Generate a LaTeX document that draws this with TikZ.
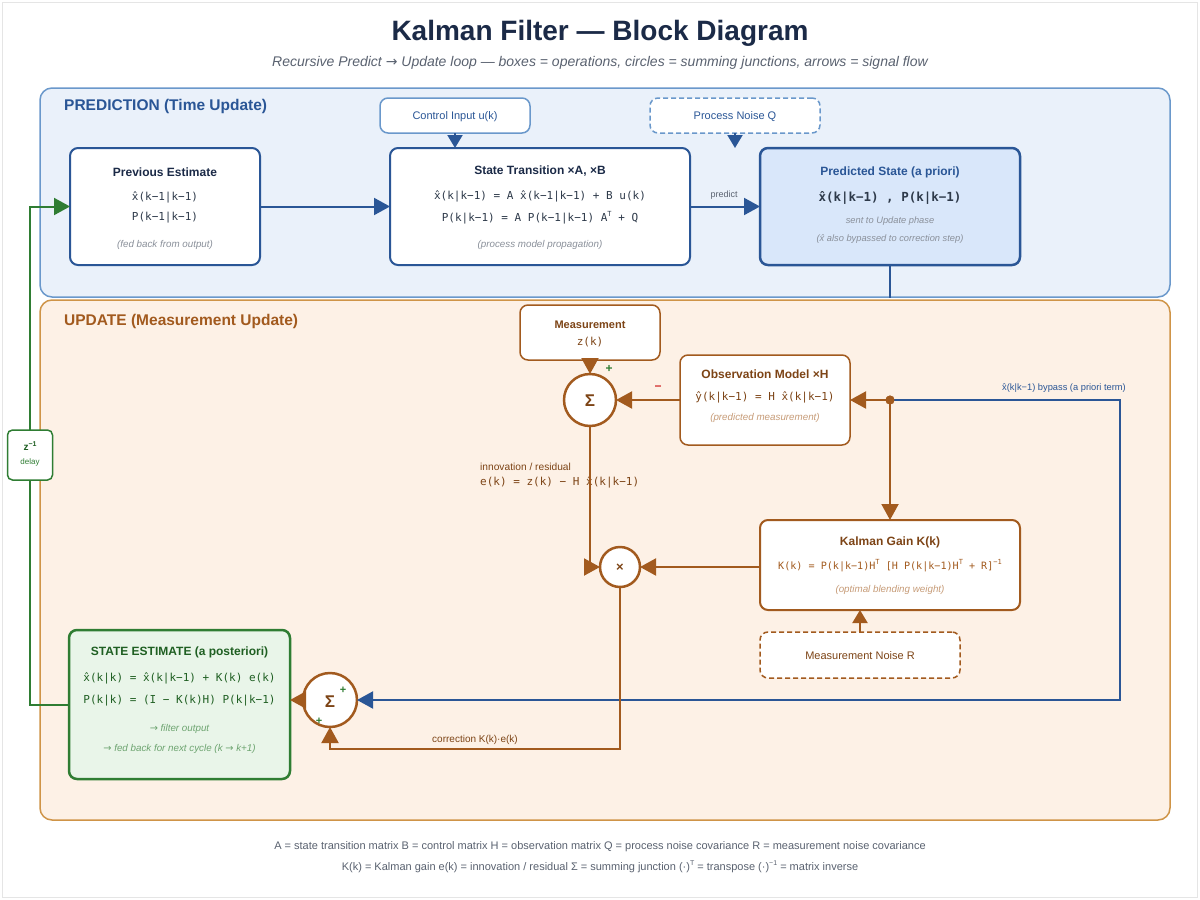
\documentclass[tikz,border=0pt]{standalone}
\usepackage{fontspec}
\setmainfont{Liberation Sans}
\newfontfamily\monof{DejaVu Sans Mono}
\newfontfamily\symf{DejaVu Sans}
\usetikzlibrary{arrows.meta}
\newcommand\fsz[1]{\fontsize{#1}{#1}\selectfont}
\newcommand\supr[1]{\raisebox{0.45em}{\fsz{7}#1}}
\newcommand\arr{{\symf\upshape →}}
\definecolor{navy}{HTML}{1B2A47}
\definecolor{bl}{HTML}{2A5696}
\definecolor{blpanel}{HTML}{6A98CB}
\definecolor{blfill}{HTML}{EAF1FA}
\definecolor{predfill}{HTML}{D9E7FA}
\definecolor{br}{HTML}{A25A1E}
\definecolor{brtext}{HTML}{7D4416}
\definecolor{brpanel}{HTML}{CF9447}
\definecolor{brfill}{HTML}{FDF1E6}
\definecolor{gr}{HTML}{2F7D33}
\definecolor{grtext}{HTML}{1F5F22}
\definecolor{grfill}{HTML}{E9F5E9}
\definecolor{gtxt}{HTML}{5A6270}
\definecolor{ltxt}{HTML}{8A909A}
\definecolor{redm}{HTML}{D32F2F}
\definecolor{monotxt}{HTML}{2E3A4A}
\begin{document}
\begin{tikzpicture}[x=1pt,y=-1pt,
  panel/.style={line width=1.5, rounded corners=12},
  box/.style={draw, fill=white, line width=2, rounded corners=8, outer sep=0, anchor=north west, inner sep=0},
  smallbox/.style={draw, fill=white, line width=1.5, rounded corners=8, outer sep=0, anchor=north west, inner sep=0},
  sumc/.style={circle, draw=br, fill=white, line width=2.5, outer sep=0, inner sep=0},
  conn/.style={line width=2},
  tipB/.style={-{Triangle[length=16pt,width=17pt]}},
  tipS/.style={-{Triangle[length=13pt,width=15pt]}},
  ttx/.style={font=\monof\fsz{11}},
  btitle/.style={font=\bfseries\fsz{12}},
  note/.style={font=\itshape\fsz{9.8}, text=ltxt},
]
\useasboundingbox (0,0) rectangle (1200,900);
\fill[white] (0,0) rectangle (1200,900);
\draw[black!10, line width=1] (2.5,2.5) rectangle (1197.5,897.5);

% title
\node[font=\bfseries\fsz{28}, text=navy] (title) at (600,33.5) {Kalman Filter — Block Diagram};
\node[font=\itshape\fsz{14}, text=gtxt] (subtitle) at (600,62.5) {Recursive Predict \arr\ Update loop — boxes = operations, circles = summing junctions, arrows = signal flow};

% panels
\draw[panel, draw=blpanel, fill=blfill] (40,88) rectangle (1170,297);
\draw[panel, draw=brpanel, fill=brfill] (40,300) rectangle (1170,820);
\node[anchor=west, inner sep=0, font=\bfseries\fsz{15.5}, text=bl] (ptitle) at (64,106) {PREDICTION (Time Update)};
\node[anchor=west, inner sep=0, font=\bfseries\fsz{15.5}, text=br] (utitle) at (64,321) {UPDATE (Measurement Update)};

% prediction boxes
\node[box, draw=bl, minimum width=190, minimum height=117] (prev) at (70,148) {};
\node[btitle, text=navy] (prevT) at (165,172.5) {Previous Estimate};
\node[ttx, text=monotxt] (prevL1) at (165,197.5) {\^x(k−1|k−1)};
\node[ttx, text=monotxt] (prevL2) at (165,217.5) {P(k−1|k−1)};
\node[note] (prevN) at (165,244.5) {(fed back from output)};

\node[box, draw=bl, minimum width=300, minimum height=117] (st) at (390,148) {};
\node[btitle, text=navy] (stT) at (540,171.5) {State Transition ×A, ×B};
\node[ttx, text=monotxt] (stL1) at (540,196.5) {\^x(k|k−1) = A \^x(k−1|k−1) + B u(k)};
\node[ttx, text=monotxt] (stL2) at (540,217.5) {P(k|k−1) = A P(k−1|k−1) A\supr{T} + Q};
\node[note] (stN) at (540,244.5) {(process model propagation)};

\node[smallbox, draw=blpanel, minimum width=150, minimum height=35] (ctrl) at (380,98) {};
\node[font=\fsz{11}, text=bl] (ctrlT) at (455,117) {Control Input u(k)};

\node[smallbox, draw=blpanel, dashed, dash pattern=on 5pt off 3pt, minimum width=170, minimum height=35] (pq) at (650,98) {};
\node[font=\fsz{11}, text=bl] (pqT) at (735,117) {Process Noise Q};
\coordinate (qend) at (735,148);

\node[box, draw=bl, fill=predfill, line width=2.5, minimum width=260, minimum height=117] (pred) at (760,148) {};
\node[btitle, text=bl] (predT) at (890,172.5) {Predicted State (a priori)};
\node[font=\monof\bfseries\fsz{12.5}, text=monotxt] (predL) at (890,197.5) {\^x(k|k−1) , P(k|k−1)};
\node[note, font=\itshape\fsz{9.3}] (predN1) at (890,221.5) {sent to Update phase};
\node[note, font=\itshape\fsz{9.3}] (predN2) at (890,239.5) {(\^x also bypassed to correction step)};
\coordinate (pdown) at (890,298);

% update boxes
\node[smallbox, draw=br, minimum width=140, minimum height=55] (meas) at (520,305) {};
\node[font=\bfseries\fsz{11}, text=brtext] (measT) at (590,324.5) {Measurement};
\node[ttx, text=brtext] (measL) at (590,342.5) {z(k)};

\node[sumc, minimum size=52] (s1) at (590,400) {};
\node[font=\bfseries\fsz{17}, text=brtext] (s1T) at (590,401) {Σ};
\node[font=\bfseries\fsz{12}, text=gr] (s1p) at (609,369) {+};
\node[font=\bfseries\fsz{12}, text=redm] (s1m) at (658,388) {−};

\node[smallbox, draw=br, minimum width=170, minimum height=90] (obs) at (680,355) {};
\node[btitle, text=brtext] (obsT) at (765,374.5) {Observation Model ×H};
\node[ttx, text=brtext] (obsL) at (765,397.5) {\^y(k|k−1) = H \^x(k|k−1)};
\node[note, text=br!60] (obsN) at (765,417.5) {(predicted measurement)};

\node[circle, fill=br, minimum size=9, inner sep=0] (dot) at (890,400) {};
\node[anchor=east, inner sep=0, font=\fsz{9.3}, text=bl] (bpT) at (1126,388.5) {\^x(k|k−1) bypass (a priori term)};

\node[anchor=west, inner sep=0, font=\fsz{10.2}, text=brtext] (innT) at (480,466.5) {innovation / residual};
\node[anchor=west, inner sep=0, ttx, text=brtext] (innL) at (480,482.5) {e(k) = z(k) − H \^x(k|k−1)};

\node[sumc, minimum size=40] (mul) at (620,567) {};
\node[font=\bfseries\fsz{13}, text=brtext] (mulT) at (620,568) {×};

\node[smallbox, draw=br, line width=2, minimum width=260, minimum height=90] (kg) at (760,520) {};
\node[btitle, text=brtext] (kgT) at (890,542.5) {Kalman Gain K(k)};
\node[font=\monof\fsz{10.1}, text=br] (kgL) at (890,565.5) {K(k) = P(k|k−1)H\supr{T} [H P(k|k−1)H\supr{T} + R]\supr{−1}};
\node[note, text=br!60] (kgN) at (890,589.5) {(optimal blending weight)};

\node[smallbox, draw=br, dashed, dash pattern=on 5pt off 3pt, minimum width=200, minimum height=46] (rn) at (760,632) {};
\node[font=\fsz{11}, text=brtext] (rnT) at (860,655.5) {Measurement Noise R};

\node[sumc, minimum size=54] (s2) at (330,700) {};
\node[font=\bfseries\fsz{17}, text=brtext] (s2T) at (330,702) {Σ};
\node[font=\bfseries\fsz{11}, text=gr] (s2p1) at (343,690) {+};
\node[font=\bfseries\fsz{11}, text=gr] (s2p2) at (319,721) {+};
\coordinate (cc) at (330,749);
\node[font=\fsz{10}, text=brtext] (corrT) at (475,739.5) {correction K(k)·e(k)};

\node[box, draw=gr, fill=grfill, line width=2.5, minimum width=221, minimum height=149] (est) at (69,630) {};
\node[btitle, text=grtext] (estT) at (179.5,652.5) {STATE ESTIMATE (a posteriori)};
\node[ttx, text=grtext] (estL1) at (179.5,678.5) {\^x(k|k) = \^x(k|k−1) + K(k) e(k)};
\node[ttx, text=grtext] (estL2) at (179.5,700.5) {P(k|k) = (I − K(k)H) P(k|k−1)};
\node[note, text=gr!70] (estN1) at (179.5,728.5) {\arr\ filter output};
\node[note, text=gr!70] (estN2) at (179.5,748.5) {\arr\ fed back for next cycle (k \arr\ k+1)};

\node[box, draw=gr, line width=1.5, rounded corners=5, minimum width=45, minimum height=50] (zd) at (7.5,430) {};
\node[font=\bfseries\fsz{10}, text=grtext] (zdT) at (30,446) {z\supr{−1}};
\node[font=\fsz{8}, text=gr] (zdN) at (30,462) {delay};

% connectors: prediction
\draw[conn, bl, tipB] (prev.east) -- (st.west);
\draw[conn, bl, tipB] (st.east) -- (pred.west);
\node[font=\fsz{9}, text=gtxt] (predictT) at (724,195.5) {predict};
\draw[conn, bl, tipS] (ctrl.south) -- (ctrl.south |- st.north);
\draw[conn, bl, tipS] (pq.south) -- (qend);
\draw[conn, bl] (pred.south) -- (pdown);

% connectors: update
\draw[conn, bl, tipB] (dot.center) -| (1120,700) -- (s2.east);
\draw[conn, br, tipB] (meas.south) -- (s1.north);
\draw[conn, br, tipB] (obs.west) -- (s1.east);
\draw[conn, br, tipB] (dot.center) -- (obs.east);
\draw[conn, br, tipB] (dot.center) -- (kg.north);
\node[circle, fill=br, minimum size=9, inner sep=0] (dot2) at (dot) {};
\draw[conn, br, tipB] (s1.south) |- (mul.west);
\draw[conn, br, tipB] (kg.west |- mul) -- (mul.east);
\draw[conn, br, tipS] (rn.north) -- (rn.north |- kg.south);
\draw[conn, br, tipB] (mul.south) |- (cc) -- (s2.south);
\draw[conn, br, tipB] (s2.west) -- (est.east |- s2);

% feedback
\draw[conn, gr] (est.west |- 0,705) -| (zd.south);
\draw[conn, gr, tipB] (zd.north) |- (prev.west);

% footer
\node[font=\fsz{11}, text=gtxt] (foot1) at (600,846.5) {A = state transition matrix B = control matrix H = observation matrix Q = process noise covariance R = measurement noise covariance};
\node[font=\fsz{11}, text=gtxt] (foot2) at (600,866.5) {K(k) = Kalman gain e(k) = innovation / residual Σ = summing junction (·)\supr{T} = transpose (·)\supr{−1} = matrix inverse};
\end{tikzpicture}
\end{document}
